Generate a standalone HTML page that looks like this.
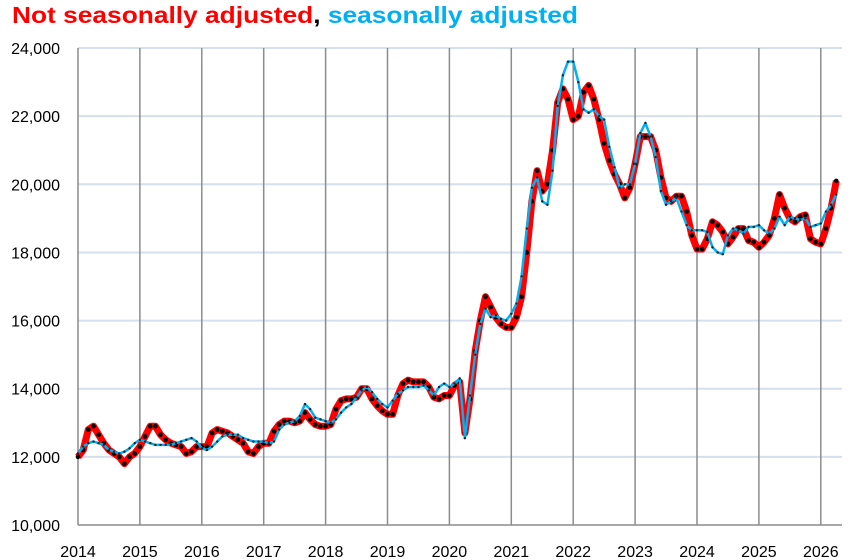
<!DOCTYPE html>
<html><head><meta charset="utf-8"><style>
html,body{margin:0;padding:0;background:#fff;}
svg{display:block;font-family:"Liberation Sans",sans-serif;}
</style></head><body>
<svg id="c" width="850" height="560" viewBox="0 0 850 560" xmlns="http://www.w3.org/2000/svg">
<text x="12" y="23" font-size="23" font-weight="bold" textLength="566" lengthAdjust="spacingAndGlyphs"><tspan fill="#FF0000">Not seasonally adjusted</tspan><tspan fill="#000">, </tspan><tspan fill="#00B0F0">seasonally adjusted</tspan></text>
<g id="grid"></g>
<g id="series"></g>
<g id="labels" font-size="16" fill="#000"></g>
</svg>
<script>
var NS="http://www.w3.org/2000/svg";
function el(t,a,p){var e=document.createElementNS(NS,t);for(var k in a)e.setAttribute(k,a[k]);p.appendChild(e);return e;}
var g=document.getElementById('grid'),s=document.getElementById('series'),L=document.getElementById('labels');
var X0=78,YW=61.9,R=838;
function Y(v){return 525-(v-10000)*0.03407;}
for(var v=12000;v<=24000;v+=2000){el('line',{x1:X0,x2:R+4,y1:Y(v),y2:Y(v),stroke:'#D5DFF0','stroke-width':2},g);}
for(var i=1;i<=12;i++){var x=X0+i*YW;el('line',{x1:x,x2:x,y1:Y(24000),y2:525,stroke:'#8c8c8c','stroke-width':1.5},g);}
el('line',{x1:X0,x2:X0,y1:Y(24000),y2:525,stroke:'#8c8c8c','stroke-width':1.5},g);
el('line',{x1:X0,x2:R+4,y1:525,y2:525,stroke:'#8c8c8c','stroke-width':1.5},g);
for(var v=10000;v<=24000;v+=2000){var t=el('text',{x:60,y:Y(v)+6,'text-anchor':'end'},L);t.textContent=(v/1000)+',000';}
for(var i=0;i<=12;i++){var t=el('text',{x:X0+i*YW,y:557,'text-anchor':'middle'},L);t.textContent=2014+i;}
var red=[12000,12200,12800,12900,12650,12400,12200,12100,12000,11800,12000,12100,
12300,12600,12900,12900,12650,12500,12400,12350,12300,12100,12150,12300,
12300,12300,12700,12800,12750,12700,12600,12500,12400,12150,12100,12300,
12400,12400,12750,12950,13050,13050,13000,13050,13300,13100,12950,12900,
12900,12950,13400,13650,13700,13700,13750,14000,14000,13700,13500,13350,
13250,13250,13800,14150,14250,14200,14200,14200,14050,13750,13700,13800,
13800,14100,14200,12700,13700,15100,16000,16700,16400,16100,15900,15800,
15800,16100,16700,18000,19500,20400,19800,20000,21000,22400,22800,22500,
21900,22000,22700,22900,22500,21900,21200,20700,20300,20000,19600,19900,
20600,21400,21400,21400,21000,20200,19600,19500,19650,19650,19200,18500,
18100,18100,18400,18900,18800,18600,18250,18450,18700,18700,18350,18300,
18150,18300,18500,19000,19700,19300,19000,18900,19050,19100,18400,18300,
18250,18700,19300,20100];
var blue=[12100,12300,12400,12450,12400,12350,12200,12150,12100,12150,12250,12400,
12500,12450,12400,12350,12350,12350,12350,12400,12450,12500,12550,12450,
12250,12200,12300,12450,12600,12650,12650,12650,12550,12500,12450,12450,
12450,12400,12450,12800,12950,13000,13050,13200,13550,13400,13150,13100,
13050,13000,13100,13300,13450,13550,13750,13950,14050,13900,13700,13550,
13450,13650,13850,13950,14050,14050,14050,14100,13950,13800,14050,14150,
14050,14150,14300,12550,13800,15000,15900,16350,16100,16150,16050,16000,
16200,16500,17300,18700,19900,20200,19500,19400,20400,22300,23200,23600,
23600,23000,22200,22100,22200,22000,21900,21100,20500,19900,20000,20000,
20600,21500,21800,21400,20800,19800,19400,19500,19600,19200,18800,18650,
18650,18650,18600,18150,18000,17950,18500,18700,18650,18550,18750,18750,
18800,18650,18550,18700,19050,18800,19050,19000,18950,19000,18750,18800,
18850,19200,19400,19700];
function pts(a){return a.map(function(v,i){return (X0+i*YW/12).toFixed(1)+','+Y(v).toFixed(1);}).join(' ');}
el('polyline',{points:pts(red),fill:'none',stroke:'#FF0000','stroke-width':7,'stroke-linejoin':'round'},s);
red.forEach(function(v,i){el('circle',{cx:X0+i*YW/12,cy:Y(v),r:2.3,fill:'#000'},s);});
el('polyline',{points:pts(blue),fill:'none',stroke:'#00B0F0','stroke-width':2.5,'stroke-linejoin':'round'},s);
blue.forEach(function(v,i){el('circle',{cx:X0+i*YW/12,cy:Y(v),r:1.2,fill:'#222'},s);});
</script>
</body></html>
